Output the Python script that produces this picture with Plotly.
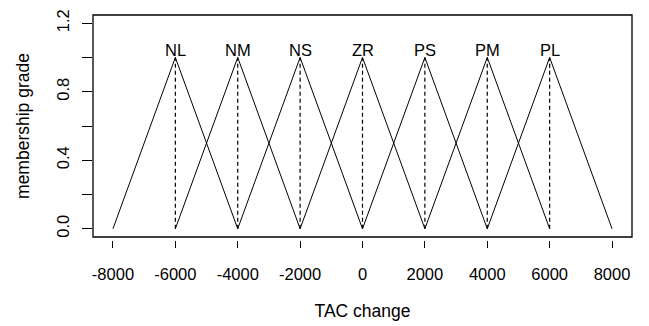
import plotly.graph_objects as go

labels = ["NL", "NM", "NS", "ZR", "PS", "PM", "PL"]
centers = [-6000, -4000, -2000, 0, 2000, 4000, 6000]
half_width = 2000
peak = 1.0
x_ticks = [-8000, -6000, -4000, -2000, 0, 2000, 4000, 6000, 8000]
y_ticks = [0.0, 0.2, 0.4, 0.6, 0.8, 1.0, 1.2]
y_tick_text = ["0.0", "", "0.4", "", "0.8", "", "1.2"]

FONT = "Liberation Sans, Arial, Helvetica, sans-serif"
FS = 16.5
FT = 17.5
fig = go.Figure()

for lab, c in zip(labels, centers):
    fig.add_trace(go.Scatter(x=[c - half_width, c, c + half_width], y=[0, peak, 0],
                             mode="lines", line=dict(color="black", width=1),
                             showlegend=False, hoverinfo="skip"))
    fig.add_trace(go.Scatter(x=[c, c], y=[0, peak], mode="lines",
                             line=dict(color="black", width=1.2, dash="4px,3px"),
                             showlegend=False, hoverinfo="skip"))

annotations = [dict(x=c, y=peak, xref="x", yref="y", text=lab, showarrow=False,
                    xanchor="center", yanchor="middle", yshift=7,
                    font=dict(family=FONT, size=FS, color="black"))
               for lab, c in zip(labels, centers)]

W, H = 649, 326
left, right, top, axis_y = 93, 632, 15, 240
box_bottom = 237
plot_h = axis_y - top
dom0 = (axis_y - box_bottom) / plot_h

fig.update_layout(
    width=W, height=H,
    margin=dict(l=left, r=W - right, t=top, b=H - axis_y, pad=0, autoexpand=False),
    plot_bgcolor="white", paper_bgcolor="white",
    font=dict(family=FONT, size=FS, color="black"),
    annotations=annotations,
    xaxis=dict(range=[-8640, 8640], tickvals=x_ticks, ticktext=[str(v) for v in x_ticks],
               ticks="outside", ticklen=7, tickwidth=1, tickcolor="black",
               showline=False, showgrid=False, zeroline=False, automargin=False,
               anchor="free", position=0, ticklabelstandoff=12,
               title=dict(text="TAC change", standoff=22, font=dict(size=FT))),
    yaxis=dict(range=[-0.048, 1.248], domain=[dom0, 1], tickvals=y_ticks, ticktext=y_tick_text,
               ticks="outside", ticklen=10, tickwidth=1, tickcolor="black", automargin=False,
               tickangle=-90, showline=False, showgrid=False, zeroline=False,
               ticklabelstandoff=6,
               title=dict(text="membership grade", standoff=20, font=dict(size=FT))),
    shapes=[dict(type="rect", xref="x domain", yref="y domain", x0=0, x1=1, y0=0, y1=1,
                 line=dict(color="black", width=1.3), fillcolor="rgba(0,0,0,0)", layer="above")],
)

fig.write_html("out.html", config={"displayModeBar": False},
               post_script="document.body.style.margin='0px';document.body.style.overflow='hidden';")
